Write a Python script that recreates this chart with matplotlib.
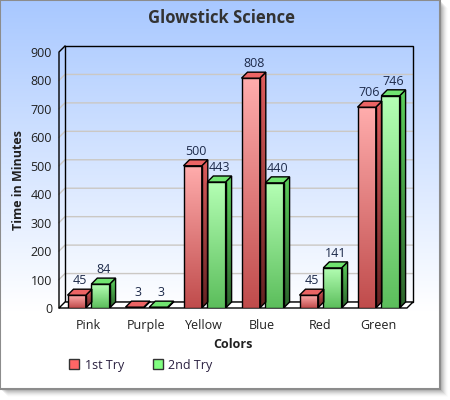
import numpy as np
import matplotlib
matplotlib.use("Agg")
import matplotlib.pyplot as plt
from matplotlib.patches import Polygon, Rectangle, Patch

plt.rcParams['font.family'] = ['Open Sans', 'DejaVu Sans']

# data
colors = ['Pink', 'Purple', 'Yellow', 'Blue', 'Red', 'Green']
try1 = [45, 3, 500, 808, 45, 706]
try2 = [84, 3, 443, 440, 141, 746]
series_names = ['1st Try', '2nd Try']
yticks = list(range(0, 1000, 100))

W, H = 450, 400
fig = plt.figure(figsize=(W / 100, H / 100), dpi=100)

# background card (pixel coords)
bg = fig.add_axes([0, 0, 1, 1])
bg.set_xlim(0, W)
bg.set_ylim(H, 0)
bg.axis('off')
cw, ch = 440, 389
for i in range(1, 9):
    a = 0.10 * (1 - i / 9)
    bg.add_patch(Rectangle((i, i), cw, ch, facecolor=(0, 0, 0, a), edgecolor='none', zorder=0))
grad = np.linspace(0, 1, 256)
grad = np.clip(grad * ch / 310, 0, 1)
top = np.array([168, 200, 255]) / 255
rgb = top[None, :] * (1 - grad[:, None]) + np.ones(3)[None, :] * grad[:, None]
bg.imshow(rgb[:, None, :], extent=[0, cw, ch, 0], aspect='auto', zorder=1, interpolation='bilinear')
bg.add_patch(Rectangle((0, 0), cw, ch, facecolor='none', edgecolor='#8c8c8c', lw=1.5, zorder=2))
bg.set_xlim(0, W)
bg.set_ylim(H, 0)

# plot axes = front plane
x_left, x_right, y_bot, y_top = 59, 407, 308, 52
ax = fig.add_axes([x_left / W, (H - y_bot) / H, (x_right - x_left) / W, (y_bot - y_top) / H])
ax.patch.set_alpha(0)
n = len(colors)
ax.set_xlim(-0.5, n - 0.5)
ax.set_ylim(0, 900)
for s in ax.spines.values():
    s.set_visible(False)

px_x = (n) / (x_right - x_left)
px_y = 900 / (y_bot - y_top)
dx, dy = 6 * px_x, 6 * px_y
x0, x1 = -0.5, n - 0.5

# walls
ax.add_patch(Rectangle((x0 + dx, dy), x1 - x0, 900, facecolor='none', edgecolor='black',
                       lw=1, zorder=2, clip_on=False))
for t in yticks[1:-1]:
    ax.plot([x0, x0 + dx, x1 + dx], [t, t + dy, t + dy], color='#cbc8c4', lw=1, zorder=1,
            clip_on=False)
ax.plot([x0, x0, x0 + dx], [0, 900, 900 + dy], color='black', lw=1, zorder=2, clip_on=False)
ax.add_patch(Polygon([(x0, 0), (x1, 0), (x1 + dx, dy), (x0 + dx, dy)], closed=True,
                     facecolor='white', edgecolor='black', lw=1, zorder=2, clip_on=False))

bw = 18.3 * px_x
offs = [-20.5 * px_x, 3.3 * px_x]
styles = [
    dict(front=((255, 172, 172), (192, 76, 76)), side=((222, 92, 92), (100, 34, 34)),
         top=(236, 100, 100), leg='#ff6666'),
    dict(front=((180, 255, 180), (92, 190, 92)), side=((92, 208, 92), (44, 100, 44)),
         top=(112, 228, 112), leg='#80ff80'),
]


def vgrad(c_top, c_bot):
    t = np.linspace(0, 1, 64)[:, None]
    a = np.array(c_top) / 255
    b = np.array(c_bot) / 255
    return (a * (1 - t) + b * t)[:, None, :]


def bar3d(xl, h, st):
    xr = xl + bw
    ax.imshow(vgrad(*st['front']), extent=[xl, xr, 0, h], aspect='auto',
              interpolation='bilinear', zorder=3)
    ax.add_patch(Rectangle((xl, 0), bw, h, facecolor='none', edgecolor='black', lw=1, zorder=4))
    side = Polygon([(xr, 0), (xr + dx, dy), (xr + dx, h + dy), (xr, h)], closed=True,
                   facecolor='none', edgecolor='black', lw=1, zorder=4)
    im2 = ax.imshow(vgrad(*st['side']), extent=[xr, xr + dx, 0, h + dy], aspect='auto',
                    interpolation='bilinear', zorder=3)
    ax.add_patch(side)
    im2.set_clip_path(side)
    ax.add_patch(Polygon([(xl, h), (xr, h), (xr + dx, h + dy), (xl + dx, h + dy)], closed=True,
                         facecolor=np.array(st['top']) / 255, edgecolor='black', lw=1, zorder=4))
    ax.text(xl + (bw + dx) / 2, h + dy + 5 * px_y, str(h), ha='center', va='baseline',
            fontsize=9, color='#1d2a4a', zorder=5)


for i in range(n):
    for k, vals in enumerate([try1, try2]):
        bar3d(i + offs[k], vals[i], styles[k])

ax.set_xlim(-0.5, n - 0.5)
ax.set_ylim(0, 900)
ax.set_yticks(yticks)
ax.set_yticklabels([str(t) for t in yticks], fontsize=9, color='#202020')
ax.set_xticks(range(n))
ax.set_xticklabels(colors, fontsize=9, color='#202020')
ax.tick_params(axis='both', length=0)
ax.tick_params(axis='y', pad=5)
ax.tick_params(axis='x', pad=8)
ax.set_xlabel('Colors', fontsize=9, fontweight='bold', color='#202020', labelpad=4)
ax.set_ylabel('Time in Minutes', fontsize=9, fontweight='bold', color='#202020', labelpad=4)

fig.text(222 / W, 1 - 18 / H, 'Glowstick Science', ha='center', va='center',
         fontsize=12, fontweight='bold', color='#333333')

handles = [Patch(facecolor=styles[k]['leg'], edgecolor='#333333', lw=1) for k in range(2)]
fig.legend(handles, series_names, loc='center left', bbox_to_anchor=(69 / W, 1 - 365 / H),
           ncol=2, frameon=False, fontsize=9, handlelength=0.8, handleheight=0.8,
           handletextpad=0.45, columnspacing=2.3, borderpad=0, borderaxespad=0,
           labelcolor='#2a2040')

fig.savefig('out.png', dpi=100)
